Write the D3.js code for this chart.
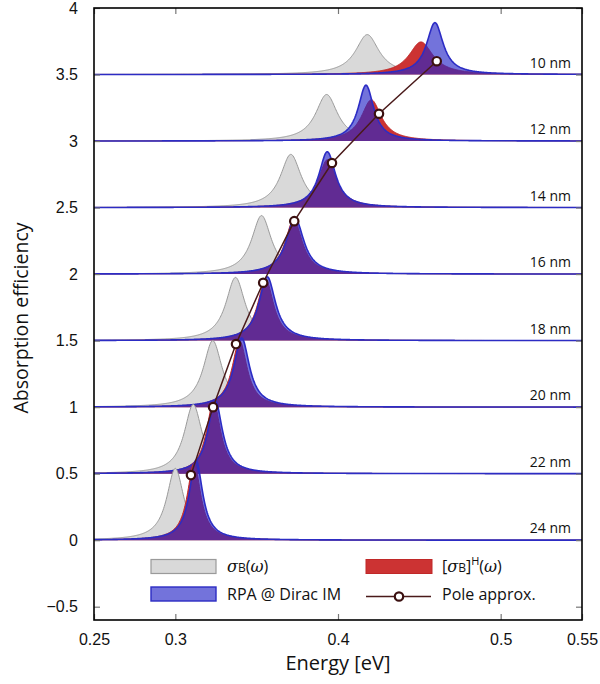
<!DOCTYPE html>
<html>
<head>
<meta charset="utf-8">
<script src="https://cdn.jsdelivr.net/npm/d3@7"></script>
<style>
  body { margin: 0; background: #fff; }
  svg { display: block; }
  .tick text { font-family: "Liberation Sans", Arial, sans-serif; font-size: 16px; fill: #111; }
</style>
</head>
<body>
<svg id="chart" width="600" height="684"></svg>
<script>
// particle sizes and vertical offsets of each spectrum
const sizes = ['10 nm', '12 nm', '14 nm', '16 nm', '18 nm', '20 nm', '22 nm', '24 nm'];
const offsets = [3.5, 3, 2.5, 2, 1.5, 1, 0.5, 0];

// sigma_B(omega) peaks (grey)
const bulkCenter = [0.418, 0.393, 0.371, 0.353, 0.337, 0.323, 0.311, 0.300];
const bulkHeight = [0.30, 0.35, 0.40, 0.44, 0.475, 0.50, 0.52, 0.54];
const bulkWidth = [0.0088, 0.0082, 0.0078, 0.0074, 0.0072, 0.007, 0.0067, 0.0064];

// [sigma_B]^H(omega) peaks (red)
const hydroCenter = [0.451, 0.4205, 0.3935, 0.3728, 0.3555, 0.3395, 0.3235, 0.3115];
const hydroHeight = [0.245, 0.31, 0.36, 0.41, 0.46, 0.50, 0.54, 0.58];
const hydroWidth = [0.009, 0.0075, 0.0068, 0.0064, 0.006, 0.0056, 0.0053, 0.005];

// RPA @ Dirac IM peaks (blue)
const rpaCenter = [0.4596, 0.4172, 0.3934, 0.3736, 0.3565, 0.3408, 0.3245, 0.3127];
const rpaHeight = [0.39, 0.42, 0.42, 0.42, 0.48, 0.52, 0.55, 0.60];
const rpaWidth = [0.0062, 0.0058, 0.0062, 0.0066, 0.0062, 0.0058, 0.0054, 0.005];

// pole approximation points
const poleEnergy = [0.4607, 0.4252, 0.3963, 0.3731, 0.354, 0.3373, 0.3232, 0.3096];
const poleValue = [3.60, 3.205, 2.835, 2.398, 1.935, 1.474, 1.0, 0.489];

const xTicks = [0.25, 0.3, 0.4, 0.5, 0.55];
const yTicks = [-0.5, 0, 0.5, 1, 1.5, 2, 2.5, 3, 3.5, 4];

const svg = d3.select('#chart');
const plotLeft = 94, plotRight = 582, plotTop = 8, plotBottom = 620;

const x = d3.scaleLinear().domain([0.25, 0.55]).range([plotLeft, plotRight]);
const y = d3.scaleLinear().domain([-0.6, 4]).range([plotBottom, plotTop]);

svg.append('clipPath').attr('id', 'plot-clip')
  .append('rect').attr('x', plotLeft).attr('y', plotTop)
  .attr('width', plotRight - plotLeft).attr('height', plotBottom - plotTop);

// energy grid used to draw the peak shapes
const grid = d3.range(0.25, 0.5502, 0.0004);
function peak(c, h, w) {
  return grid.map(e => [e, h / (1 + ((e - c) / w) ** 2)]);
}

const plot = svg.append('g').attr('clip-path', 'url(#plot-clip)');

sizes.forEach((label, i) => {
  const base = offsets[i];
  const area = d3.area().x(d => x(d[0])).y0(y(base)).y1(d => y(base + d[1]));
  const line = d3.line().x(d => x(d[0])).y(d => y(base + d[1]));

  const bulk = peak(bulkCenter[i], bulkHeight[i], bulkWidth[i]);
  const hydro = peak(hydroCenter[i], hydroHeight[i], hydroWidth[i]);
  const rpa = peak(rpaCenter[i], rpaHeight[i], rpaWidth[i]);

  const g = plot.append('g');
  g.append('path').attr('d', area(bulk)).attr('fill', '#d9d9d9');
  g.append('path').attr('d', line(bulk)).attr('fill', 'none')
    .attr('stroke', '#9a9a9a').attr('stroke-width', 1);

  g.append('path').attr('d', area(hydro)).attr('fill', '#cc3333');
  g.append('path').attr('d', line(hydro)).attr('fill', 'none')
    .attr('stroke', '#c02828').attr('stroke-width', 1);

  g.append('path').attr('d', area(rpa)).attr('fill', 'rgb(40,40,200)').attr('opacity', 0.65);
  g.append('path').attr('d', line(rpa)).attr('fill', 'none')
    .attr('stroke', '#2c2cc4').attr('stroke-width', 1.6);
});

// size labels
svg.append('g').selectAll('text')
  .data(sizes)
  .enter().append('text')
  .attr('x', 571)
  .attr('y', (d, i) => y(offsets[i]) - 7)
  .attr('text-anchor', 'end')
  .attr('font-family', '"Open Sans", sans-serif')
  .attr('font-size', 14)
  .attr('fill', '#111')
  .text(d => d);

// pole approximation
const pole = poleEnergy.map((e, i) => [e, poleValue[i]]);
svg.append('path')
  .attr('d', d3.line().x(d => x(d[0])).y(d => y(d[1]))(pole))
  .attr('fill', 'none').attr('stroke', '#4a1a1a').attr('stroke-width', 1.5);
svg.append('g').selectAll('circle')
  .data(pole)
  .enter().append('circle')
  .attr('cx', d => x(d[0])).attr('cy', d => y(d[1])).attr('r', 4.2)
  .attr('fill', '#fff').attr('stroke', '#3b1010').attr('stroke-width', 2.2);

// axes: ticks point inward
const xAxis = svg.append('g').attr('transform', `translate(0,${plotBottom})`)
  .call(d3.axisBottom(x).tickValues(xTicks).tickSize(-6).tickPadding(14).tickFormat(d3.format('')));
const xTop = svg.append('g').attr('transform', `translate(0,${plotTop})`)
  .call(d3.axisTop(x).tickValues(xTicks).tickSize(-6).tickFormat(''));
const yAxis = svg.append('g').attr('transform', `translate(${plotLeft},0)`)
  .call(d3.axisLeft(y).tickValues(yTicks).tickSize(-6).tickPadding(16)
    .tickFormat(d => d < 0 ? '\u2212' + Math.abs(d) : d));
const yRight = svg.append('g').attr('transform', `translate(${plotRight},0)`)
  .call(d3.axisRight(y).tickValues(yTicks).tickSize(-6).tickFormat(''));

[xAxis, xTop, yAxis, yRight].forEach(a => {
  a.select('.domain').remove();
  a.selectAll('.tick line').attr('stroke', '#777').attr('stroke-width', 1.2);
});

// frame
svg.append('rect').attr('x', plotLeft).attr('y', plotTop)
  .attr('width', plotRight - plotLeft).attr('height', plotBottom - plotTop)
  .attr('fill', 'none').attr('stroke', '#000').attr('stroke-width', 1.6);

// legend
const legend = svg.append('g').attr('font-family', '"Open Sans", sans-serif').attr('font-size', 16).attr('fill', '#111');
legend.append('rect').attr('x', 151).attr('y', 559.5).attr('width', 65).attr('height', 14)
  .attr('fill', '#d9d9d9').attr('stroke', '#9a9a9a').attr('stroke-width', 1.2);
legend.append('rect').attr('x', 151).attr('y', 587).attr('width', 65).attr('height', 14)
  .attr('fill', 'rgb(40,40,200)').attr('fill-opacity', 0.65)
  .attr('stroke', '#2c2cc4').attr('stroke-width', 1.4);
legend.append('rect').attr('x', 366).attr('y', 559.5).attr('width', 66).attr('height', 14)
  .attr('fill', '#cc3333').attr('stroke', '#c02828').attr('stroke-width', 1);
legend.append('line').attr('x1', 366).attr('x2', 431).attr('y1', 596.5).attr('y2', 596.5)
  .attr('stroke', '#4a1a1a').attr('stroke-width', 1.5);
legend.append('circle').attr('cx', 399).attr('cy', 596.5).attr('r', 4.2)
  .attr('fill', '#fff').attr('stroke', '#3b1010').attr('stroke-width', 2.2);

const t1 = legend.append('text').attr('x', 227).attr('y', 572);
t1.append('tspan').attr('font-style', 'italic').attr('font-family', '"DejaVu Serif", serif').text('σ');
t1.append('tspan').attr('font-size', 12).text('B');
t1.append('tspan').text('(');
t1.append('tspan').attr('font-style', 'italic').attr('font-family', '"DejaVu Serif", serif').text('ω');
t1.append('tspan').text(')');

legend.append('text').attr('x', 227).attr('y', 600).text('RPA @ Dirac IM');

const t2 = legend.append('text').attr('x', 442).attr('y', 572);
t2.append('tspan').text('[');
t2.append('tspan').attr('font-style', 'italic').attr('font-family', '"DejaVu Serif", serif').text('σ');
t2.append('tspan').attr('font-size', 12).text('B');
t2.append('tspan').text(']');
t2.append('tspan').attr('font-size', 11).attr('dy', -7).text('H');
t2.append('tspan').attr('dy', 7).text('(');
t2.append('tspan').attr('font-style', 'italic').attr('font-family', '"DejaVu Serif", serif').text('ω');
t2.append('tspan').text(')');

legend.append('text').attr('x', 442).attr('y', 600).text('Pole approx.');

// axis titles
svg.append('text').attr('x', 338).attr('y', 670)
  .attr('text-anchor', 'middle')
  .attr('font-family', '"Open Sans", sans-serif').attr('font-size', 20).attr('fill', '#111')
  .text('Energy [eV]');
svg.append('text').attr('transform', 'translate(28,318) rotate(-90)')
  .attr('text-anchor', 'middle')
  .attr('font-family', '"Open Sans", sans-serif').attr('font-size', 19.5).attr('fill', '#111')
  .text('Absorption efficiency');
</script>
</body>
</html>
